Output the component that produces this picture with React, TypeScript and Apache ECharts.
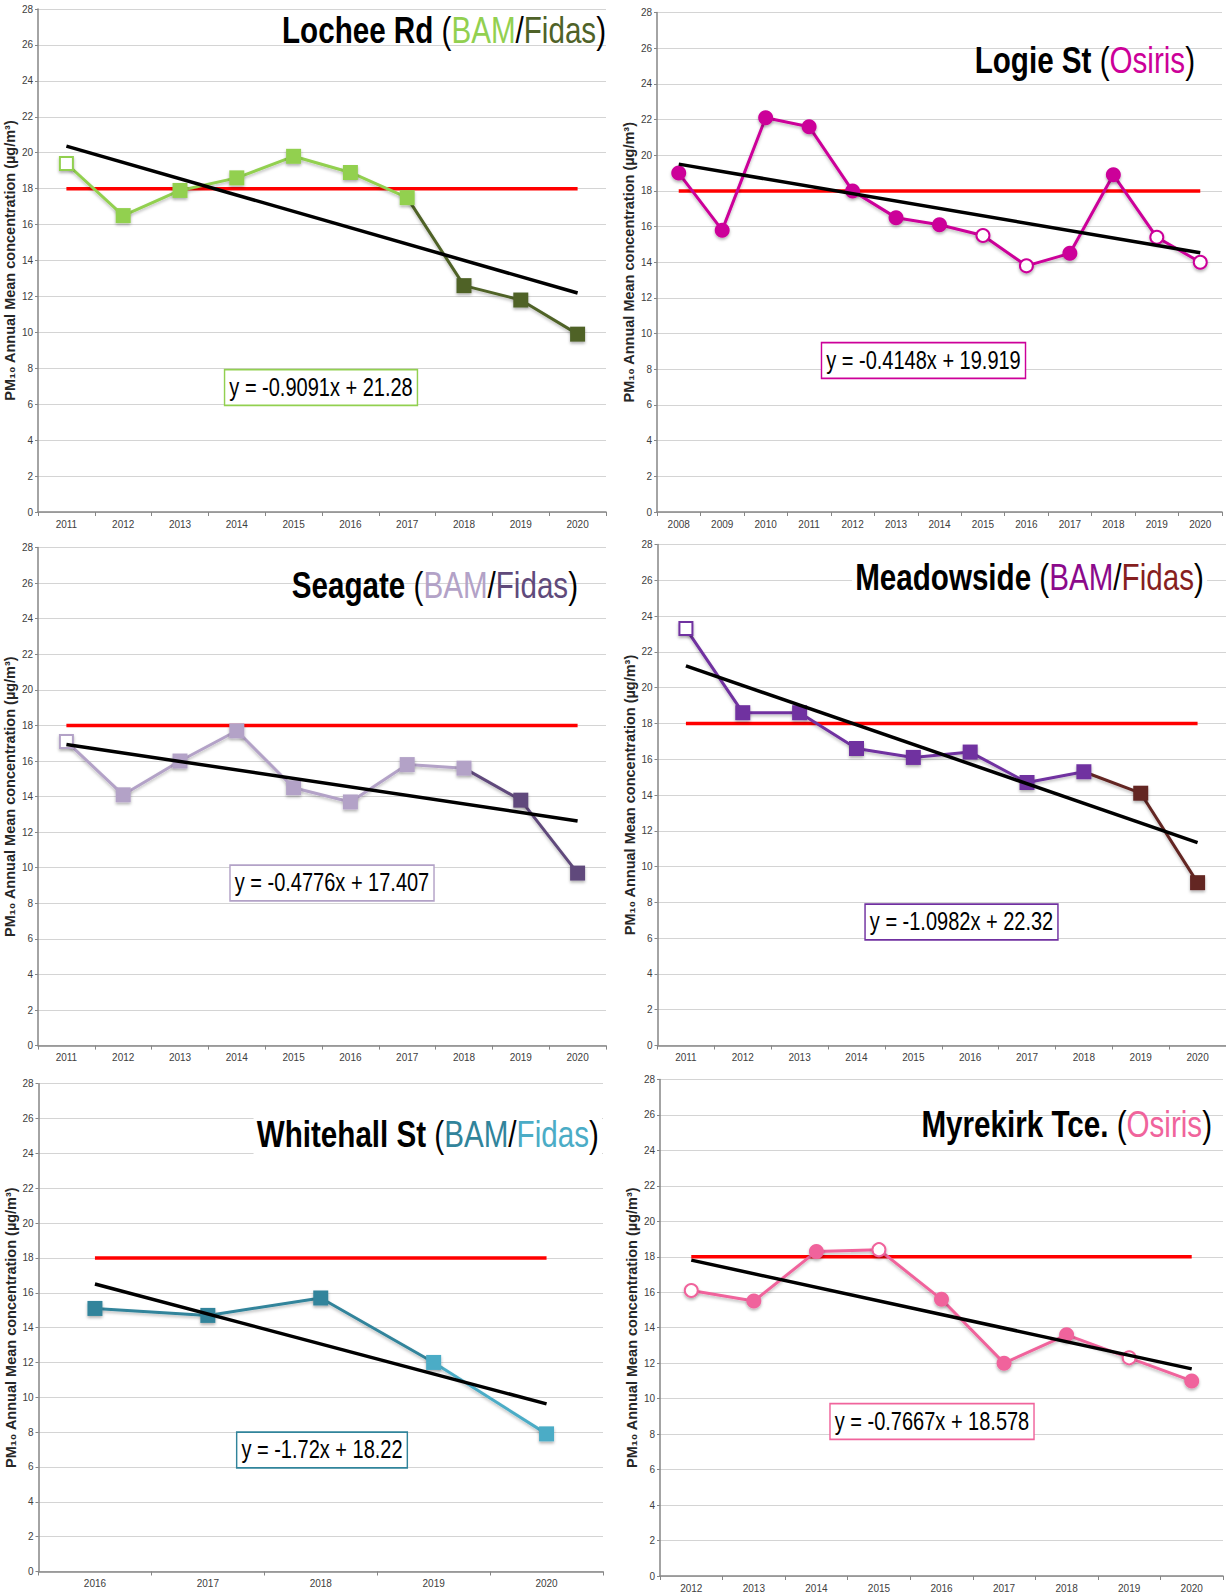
import React, { useEffect, useRef } from "react";
import * as echarts from "echarts";

// ---------- DATA ----------
const LIMIT = 18;

const locheeYears = ["2011", "2012", "2013", "2014", "2015", "2016", "2017", "2018", "2019", "2020"];
const locheeValues = [19.4, 16.5, 17.9, 18.6, 19.8, 18.9, 17.5, 12.6, 11.8, 9.9];
const locheeInstrument = ["BAM", "BAM", "BAM", "BAM", "BAM", "BAM", "BAM", "Fidas", "Fidas", "Fidas"];
const locheeOpen = [true, false, false, false, false, false, false, false, false, false];
const locheeTrend = [20.37, 12.19];
const locheeEquation = "y = -0.9091x + 21.28";

const logieYears = ["2008", "2009", "2010", "2011", "2012", "2013", "2014", "2015", "2016", "2017", "2018", "2019", "2020"];
const logieValues = [19.0, 15.8, 22.1, 21.6, 18.0, 16.5, 16.1, 15.5, 13.8, 14.5, 18.9, 15.4, 14.0];
const logieInstrument = ["Osiris", "Osiris", "Osiris", "Osiris", "Osiris", "Osiris", "Osiris", "Osiris", "Osiris", "Osiris", "Osiris", "Osiris", "Osiris"];
const logieOpen = [false, false, false, false, false, false, false, true, true, false, false, true, true];
const logieTrend = [19.5, 14.53];
const logieEquation = "y = -0.4148x + 19.919";

const seagateYears = ["2011", "2012", "2013", "2014", "2015", "2016", "2017", "2018", "2019", "2020"];
const seagateValues = [17.1, 14.1, 16.0, 17.7, 14.5, 13.7, 15.8, 15.6, 13.8, 9.7];
const seagateInstrument = ["BAM", "BAM", "BAM", "BAM", "BAM", "BAM", "BAM", "BAM", "Fidas", "Fidas"];
const seagateOpen = [true, false, false, false, false, false, false, false, false, false];
const seagateTrend = [16.93, 12.63];
const seagateEquation = "y = -0.4776x + 17.407";

const meadowYears = ["2011", "2012", "2013", "2014", "2015", "2016", "2017", "2018", "2019", "2020"];
const meadowValues = [23.3, 18.6, 18.6, 16.6, 16.1, 16.4, 14.7, 15.3, 14.1, 9.1];
const meadowInstrument = ["BAM", "BAM", "BAM", "BAM", "BAM", "BAM", "BAM", "BAM", "Fidas", "Fidas"];
const meadowOpen = [true, false, false, false, false, false, false, false, false, false];
const meadowTrend = [21.22, 11.34];
const meadowEquation = "y = -1.0982x + 22.32";

const whitehallYears = ["2016", "2017", "2018", "2019", "2020"];
const whitehallValues = [15.1, 14.7, 15.7, 12.0, 7.9];
const whitehallInstrument = ["BAM", "BAM", "BAM", "Fidas", "Fidas"];
const whitehallOpen = [false, false, false, false, false];
const whitehallTrend = [16.5, 9.62];
const whitehallEquation = "y = -1.72x + 18.22";

const myrekirkYears = ["2012", "2013", "2014", "2015", "2016", "2017", "2018", "2019", "2020"];
const myrekirkValues = [16.1, 15.5, 18.3, 18.4, 15.6, 12.0, 13.6, 12.3, 11.0];
const myrekirkInstrument = ["Osiris", "Osiris", "Osiris", "Osiris", "Osiris", "Osiris", "Osiris", "Osiris", "Osiris"];
const myrekirkOpen = [true, false, false, true, false, false, false, true, false];
const myrekirkTrend = [17.81, 11.68];
const myrekirkEquation = "y = -0.7667x + 18.578";

const yTicks = { min: 0, max: 28, interval: 2 };
const yAxisName = "PM\u2081\u2080 Annual Mean concentration (\u00B5g/m\u00B3)";

// ---------- STYLE / LAYOUT ----------
const FONT = "'Liberation Sans', Arial, Helvetica, sans-serif";
const NARROW = "'Liberation Sans Narrow', 'Arial Narrow', 'Liberation Sans', Arial, sans-serif";

type Panel = {
  years: string[];
  values: number[];
  instrument: string[];
  open: boolean[];
  trend: number[];
  equation: string;
  symbol: string;
  colors: Record<string, string>;
  titleName: string;
  titleParts: [string, string][];
  grid: { left: number; top: number; width: number; height: number };
  titlePos: { x: number; y: number; bg: boolean };
  boxPos: { x: number; y: number; color: string };
  transition: "later" | "earlier";
};

const panels: Panel[] = [
  {
    years: locheeYears, values: locheeValues, instrument: locheeInstrument, open: locheeOpen,
    trend: locheeTrend, equation: locheeEquation, symbol: "rect",
    colors: { BAM: "#92D050", Fidas: "#4F6228" },
    titleName: "Lochee Rd", titleParts: [["BAM", "#92D050"], ["Fidas", "#4F6228"]],
    grid: { left: 38, top: 9, width: 568, height: 503 },
    titlePos: { x: 606, y: 30, bg: false },
    boxPos: { x: 321, y: 387.5, color: "#92D050" },
    transition: "later",
  },
  {
    years: logieYears, values: logieValues, instrument: logieInstrument, open: logieOpen,
    trend: logieTrend, equation: logieEquation, symbol: "circle",
    colors: { Osiris: "#CC0099" },
    titleName: "Logie St", titleParts: [["Osiris", "#CC0099"]],
    grid: { left: 657, top: 12.5, width: 565, height: 499.5 },
    titlePos: { x: 1195, y: 60, bg: false },
    boxPos: { x: 923.5, y: 360.5, color: "#CC0099" },
    transition: "later",
  },
  {
    years: seagateYears, values: seagateValues, instrument: seagateInstrument, open: seagateOpen,
    trend: seagateTrend, equation: seagateEquation, symbol: "rect",
    colors: { BAM: "#B3A2C7", Fidas: "#604A7B" },
    titleName: "Seagate", titleParts: [["BAM", "#B3A2C7"], ["Fidas", "#604A7B"]],
    grid: { left: 38, top: 547.6, width: 568, height: 498 },
    titlePos: { x: 578, y: 585, bg: false },
    boxPos: { x: 332, y: 883, color: "#B3A2C7" },
    transition: "later",
  },
  {
    years: meadowYears, values: meadowValues, instrument: meadowInstrument, open: meadowOpen,
    trend: meadowTrend, equation: meadowEquation, symbol: "rect",
    colors: { BAM: "#7030A0", Fidas: "#632523" },
    titleName: "Meadowside", titleParts: [["BAM", "#8B0A8B"], ["Fidas", "#861F1F"]],
    grid: { left: 657.5, top: 544.5, width: 568.5, height: 501 },
    titlePos: { x: 1207, y: 577, bg: true },
    boxPos: { x: 961.5, y: 922, color: "#7030A0" },
    transition: "later",
  },
  {
    years: whitehallYears, values: whitehallValues, instrument: whitehallInstrument, open: whitehallOpen,
    trend: whitehallTrend, equation: whitehallEquation, symbol: "rect",
    colors: { BAM: "#31849B", Fidas: "#4BACC6" },
    titleName: "Whitehall St", titleParts: [["BAM", "#31849B"], ["Fidas", "#4BACC6"]],
    grid: { left: 38.5, top: 1083.7, width: 564.5, height: 487.8 },
    titlePos: { x: 602, y: 1134, bg: true },
    boxPos: { x: 322, y: 1450, color: "#31849B" },
    transition: "earlier",
  },
  {
    years: myrekirkYears, values: myrekirkValues, instrument: myrekirkInstrument, open: myrekirkOpen,
    trend: myrekirkTrend, equation: myrekirkEquation, symbol: "circle",
    colors: { Osiris: "#F0649C" },
    titleName: "Myrekirk Tce.", titleParts: [["Osiris", "#F0649C"]],
    grid: { left: 660, top: 1079.4, width: 563, height: 497.3 },
    titlePos: { x: 1212, y: 1124, bg: false },
    boxPos: { x: 932, y: 1421.5, color: "#F0649C" },
    transition: "later",
  },
];

function buildSeries(p: Panel, i: number): any[] {
  const out: any[] = [];
  const last = p.years.length - 1;
  out.push({
    type: "line", xAxisIndex: i, yAxisIndex: i, silent: true, z: 2,
    data: [[p.years[0], LIMIT], [p.years[last], LIMIT]],
    symbol: "none", lineStyle: { color: "#FF0000", width: 3.5 },
  });
  const groups: string[] = [];
  p.instrument.forEach((g) => { if (!groups.includes(g)) groups.push(g); });
  groups.forEach((g, gi) => {
    const c = p.colors[g];
    const idx: number[] = [];
    p.instrument.forEach((ins, k) => { if (ins === g) idx.push(k); });
    const items: any[] = idx.map((k) =>
      p.open[k]
        ? { value: [p.years[k], p.values[k]], symbolSize: 13, itemStyle: { color: "#FFFFFF", borderColor: c, borderWidth: 2 } }
        : { value: [p.years[k], p.values[k]] }
    );
    if (gi > 0 && p.transition === "later") {
      const k = idx[0] - 1;
      items.unshift({ value: [p.years[k], p.values[k]], symbol: "none" });
    }
    if (gi < groups.length - 1 && p.transition === "earlier") {
      const k = idx[idx.length - 1] + 1;
      items.push({ value: [p.years[k], p.values[k]], symbol: "none" });
    }
    const z = p.transition === "later" ? 3 + (groups.length - 1 - gi) : 3 + gi;
    out.push({
      type: "line", xAxisIndex: i, yAxisIndex: i, silent: true, z,
      data: items, symbol: p.symbol, symbolSize: 15,
      lineStyle: { color: c, width: 3, shadowColor: "rgba(0,0,0,0.25)", shadowBlur: 3, shadowOffsetY: 2 },
      itemStyle: { color: c, shadowColor: "rgba(0,0,0,0.3)", shadowBlur: 3, shadowOffsetY: 2 },
    });
  });
  out.push({
    type: "line", xAxisIndex: i, yAxisIndex: i, silent: true, z: 10,
    data: [[p.years[0], p.trend[0]], [p.years[last], p.trend[1]]],
    symbol: "none", lineStyle: { color: "#000000", width: 3.5 },
  });
  return out;
}

function buildGraphics(p: Panel): any[] {
  const rich: any = {
    b: { fontFamily: FONT, fontWeight: "bold", fontSize: 37, fill: "#000000" },
    n: { fontFamily: FONT, fontWeight: "normal", fontSize: 37, fill: "#000000" },
  };
  let text = `{b|${p.titleName} }{n|(}`;
  p.titleParts.forEach(([label, color], k) => {
    rich["c" + k] = { fontFamily: FONT, fontWeight: "normal", fontSize: 37, fill: color };
    if (k > 0) text += "{n|/}";
    text += `{c${k}|${label}}`;
  });
  text += "{n|)}";
  const title: any = {
    type: "text", x: p.titlePos.x, y: p.titlePos.y, scaleX: 0.8, z: 100,
    style: {
      text, rich, align: "right", verticalAlign: "middle",
      fontFamily: FONT, fontSize: 37,
      backgroundColor: p.titlePos.bg ? "#FFFFFF" : undefined,
      padding: p.titlePos.bg ? [2, 4, 2, 4] : 0,
    },
  };
  const box: any = {
    type: "text", x: p.boxPos.x, y: p.boxPos.y, scaleX: 0.8, z: 100,
    style: {
      text: p.equation, align: "center", verticalAlign: "middle",
      fontFamily: FONT, fontSize: 25, fill: "#000000",
      backgroundColor: "#FFFFFF", borderColor: p.boxPos.color, borderWidth: 1.8,
      padding: [5, 5, 4, 5],
    },
  };
  return [title, box];
}

export default function App() {
  const ref = useRef<HTMLDivElement>(null);
  useEffect(() => {
    document.body.style.margin = "0";
    document.body.style.overflow = "hidden";
    if (!ref.current) return;
    const chart = echarts.init(ref.current, undefined, { renderer: "svg" });
    const option: any = {
      animation: false,
      backgroundColor: "#FFFFFF",
      grid: panels.map((p) => ({ ...p.grid, containLabel: false })),
      xAxis: panels.map((p, i) => ({
        type: "category", gridIndex: i, data: p.years, boundaryGap: true,
        axisLine: { show: true, lineStyle: { color: "#868686", width: 1.5 } },
        axisTick: { show: true, length: 4, lineStyle: { color: "#868686" } },
        axisLabel: { interval: 0, fontSize: 10, color: "#404040", margin: 7, fontFamily: NARROW },
        splitLine: { show: false },
      })),
      yAxis: panels.map((p, i) => ({
        type: "value", gridIndex: i, min: yTicks.min, max: yTicks.max, interval: yTicks.interval,
        axisLine: { show: true, lineStyle: { color: "#868686", width: 1.5 } },
        axisTick: { show: true, length: 3, lineStyle: { color: "#868686" } },
        axisLabel: { fontSize: 10, color: "#404040", margin: 5, fontFamily: NARROW },
        splitLine: { show: true, lineStyle: { color: "#D4D4D4", width: 1.2 } },
        name: yAxisName, nameLocation: "middle", nameRotate: 90, nameGap: 12,
        nameTextStyle: { fontSize: 14.5, fontWeight: "bold", color: "#262626", fontFamily: FONT },
      })),
      series: panels.flatMap((p, i) => buildSeries(p, i)),
      graphic: panels.flatMap((p) => buildGraphics(p)),
    };
    chart.setOption(option);
    return () => chart.dispose();
  }, []);
  return (
    <div
      ref={ref}
      style={{ position: "absolute", left: 0, top: 0, width: 1226, height: 1593, background: "#FFFFFF" }}
    />
  );
}
